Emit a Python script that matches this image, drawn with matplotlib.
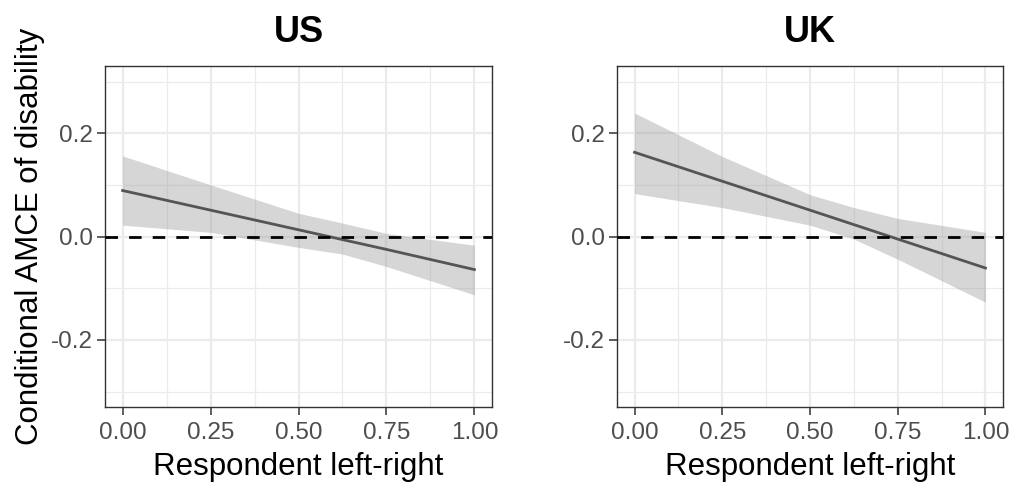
import numpy as np
import matplotlib
matplotlib.use('Agg')
from matplotlib import pyplot as plt
from matplotlib.ticker import MultipleLocator

plt.rcParams['font.family'] = ['Liberation Sans', 'DejaVu Sans']

# 数据: 左右立场 -> 残疾属性的条件 AMCE
x_vals = [0.0, 0.25, 0.5, 0.625, 0.75, 1.0]

us_est = [0.089, 0.051, 0.013, -0.006, -0.025, -0.064]
us_upper = [0.156, 0.100, 0.045, 0.026, 0.006, -0.017]
us_lower = [0.022, 0.008, -0.021, -0.034, -0.058, -0.113]

uk_est = [0.163, 0.107, 0.051, 0.023, -0.005, -0.061]
uk_upper = [0.239, 0.155, 0.081, 0.056, 0.035, 0.008]
uk_lower = [0.083, 0.056, 0.022, -0.005, -0.044, -0.127]

panels = ['US', 'UK']
x_ticks = [0.0, 0.25, 0.5, 0.75, 1.0]
x_ticklabels = ['0.00', '0.25', '0.50', '0.75', '1.00']
y_ticks = [-0.2, 0.0, 0.2]
y_ticklabels = ['-0.2', '0.0', '0.2']

W, H = 1013, 484
fig = plt.figure(figsize=(W / 100, H / 100), dpi=100)

boxes = [(105, 66, 492, 407), (617, 66, 1003, 407)]
series = [(us_est, us_lower, us_upper), (uk_est, uk_lower, uk_upper)]

for (l, t, r, b), name, (est, lo, hi) in zip(boxes, panels, series):
    ax = fig.add_axes([l / W, (H - b) / H, (r - l) / W, (b - t) / H])
    ax.set_xlim(-0.05, 1.05)
    ax.set_ylim(-0.33, 0.33)

    # 网格 (ggplot theme_bw 风格)
    ax.set_xticks(x_ticks)
    ax.set_xticklabels(x_ticklabels)
    ax.set_yticks(y_ticks)
    ax.set_yticklabels(y_ticklabels)
    ax.xaxis.set_minor_locator(MultipleLocator(0.125))
    ax.yaxis.set_minor_locator(MultipleLocator(0.1))
    ax.grid(which='major', color='#EBEBEB', lw=1.6, zorder=0)
    ax.grid(which='minor', color='#EBEBEB', lw=0.9, zorder=0)
    ax.set_axisbelow(True)
    ax.tick_params(which='minor', length=0)
    ax.tick_params(which='major', length=5.5, width=1.1, color='#333333',
                   labelsize=17.5, labelcolor='#4D4D4D', pad=3.5)
    ax.tick_params(axis='x', pad=5)

    for sp in ax.spines.values():
        sp.set_color('#333333')
        sp.set_linewidth(1.0)

    ax.fill_between(x_vals, lo, hi, color='#999999', alpha=0.4, lw=0, zorder=2)
    ax.plot(x_vals, est, color='#555555', lw=2.0, zorder=3)
    ax.axhline(0, color='black', lw=2.0, ls=(0, (4.5, 4)), zorder=4)

    ax.set_title(name, fontsize=26, fontweight='bold', pad=17)
    ax.set_xlabel('Respondent left-right', fontsize=22.5, labelpad=6)

fig.text(30 / W, (H - 236) / H, 'Conditional AMCE of disability',
         rotation=90, fontsize=22.5, ha='center', va='center')

plt.savefig('out.png', dpi=100)
